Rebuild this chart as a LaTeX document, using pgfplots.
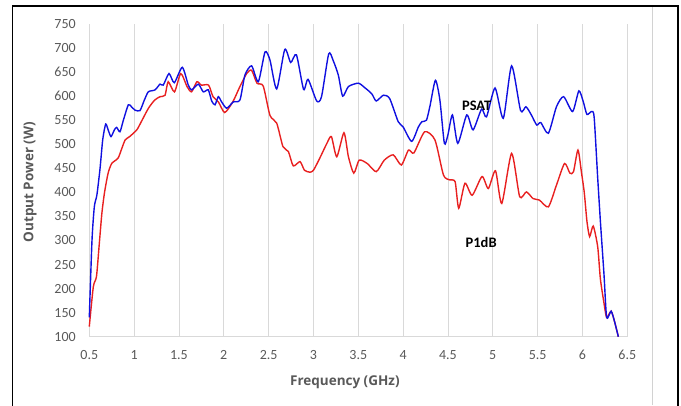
\documentclass[border=0pt]{standalone}
\usepackage{pgfplots}
\pgfplotsset{compat=1.18}
\usepackage{fontspec}
\setmainfont{Carlito}
\newfontfamily\labelfont{Open Sans}
\definecolor{tickgray}{HTML}{595959}
\definecolor{gridgray}{HTML}{D9D9D9}
\definecolor{psatblue}{HTML}{1010E0}
\definecolor{pdbred}{HTML}{E82020}
\begin{document}
\begin{tikzpicture}
\path[use as bounding box] (0,0) rectangle (681pt,405pt);
\draw[black, line width=1.5pt] (12.7pt,-5pt) rectangle (678pt,399pt);
\draw[gray!35, line width=0.8pt] (652pt,0pt) -- (652pt,398pt);
\begin{axis}[
  at={(89.3pt,68.3pt)}, anchor=south west,
  scale only axis, width=538pt, height=312.7pt,
  xmin=0.5, xmax=6.5, ymin=100, ymax=750,
  xtick={0.5,1,...,6.5}, ytick={100,150,...,750},
  xticklabels={0.5,1,1.5,2,2.5,3,3.5,4,4.5,5,5.5,6,6.5},
  axis x line*=bottom, axis y line*=left,
  x axis line style={draw=gridgray, line width=0.8pt, -},
  y axis line style={draw=none},
  major tick length=0pt,
  xmajorgrids, grid style={draw=gridgray, line width=0.8pt},
  /pgf/number format/assume math mode=true,
  ticklabel style={font=\fontsize{14}{16}\selectfont, text=tickgray},
  yticklabel style={xshift=-10pt},
  xticklabel style={yshift=-10pt},
  xlabel={Frequency (GHz)},
  ylabel={Output Power (W)},
  every axis x label/.style={at={(axis description cs:0.475,-0.147)}, anchor=center, font=\labelfont\bfseries\fontsize{13.5}{16}\selectfont, text=tickgray},
  every axis y label/.style={at={(axis description cs:-0.110,0.494)}, anchor=center, rotate=90, font=\labelfont\bfseries\fontsize{13.5}{16}\selectfont, text=tickgray},
  clip=false,
]
\addplot[pdbred, line width=1.4pt, smooth, tension=0.4] coordinates {
(0.5,121)(0.545,204)(0.58,225)(0.61,290)(0.64,356)(0.67,400)(0.71,440)(0.75,460)(0.82,471)(0.86,490)(0.9,509)(0.95,516)(1.03,530)(1.08,547)(1.16,575)(1.23,592)(1.29,599)(1.345,602)(1.38,630)(1.45,609)(1.52,647)(1.59,620)(1.64,609)(1.70,630)(1.75,623)(1.83,623)(1.88,599)(1.94,588)(2.01,566)(2.1,588)(2.18,620)(2.255,647)(2.31,654)(2.37,627)(2.44,621)(2.515,560)(2.59,544)(2.66,495)(2.72,485)(2.775,455)(2.85,464)(2.9,446)(2.96,442)(3.0,446)(3.07,471)(3.15,502)(3.2,516)(3.26,474)(3.34,524)(3.39,474)(3.45,440)(3.51,467)(3.6,460)(3.7,443)(3.79,467)(3.89,478)(3.98,457)(4.06,488)(4.12,482)(4.24,526)(4.355,509)(4.45,436)(4.52,426)(4.58,422)(4.62,367)(4.69,419)(4.77,394)(4.88,433)(4.95,408)(5.03,445)(5.1,377)(5.21,481)(5.3,391)(5.375,401)(5.45,387)(5.52,384)(5.62,370)(5.71,415)(5.8,460)(5.86,440)(5.9,443)(5.95,488)(5.99,440)(6.02,400)(6.05,340)(6.08,308)(6.12,330)(6.17,287)(6.2,220)(6.24,170)(6.27,140)(6.32,153)(6.36,130)(6.4,100)
};
\addplot[psatblue, line width=1.4pt, smooth, tension=0.4] coordinates {
(0.5,140)(0.53,300)(0.556,370)(0.585,395)(0.62,450)(0.65,510)(0.683,542)(0.71,530)(0.742,516)(0.78,530)(0.805,535)(0.842,526)(0.88,550)(0.935,582)(0.97,578)(1.01,571)(1.065,570)(1.11,590)(1.158,609)(1.233,613)(1.289,625)(1.325,623)(1.389,647)(1.448,628)(1.537,660)(1.604,623)(1.642,613)(1.716,625)(1.771,609)(1.827,613)(1.865,590)(1.902,582)(1.939,599)(1.976,588)(2.032,575)(2.106,588)(2.18,592)(2.236,644)(2.31,663)(2.385,630)(2.46,692)(2.515,675)(2.59,615)(2.68,697)(2.746,670)(2.81,686)(2.89,614)(2.94,635)(3.036,590)(3.09,599)(3.17,688)(3.22,674)(3.277,644)(3.326,600)(3.39,620)(3.5,627)(3.57,618)(3.65,605)(3.7,590)(3.78,602)(3.85,595)(3.945,547)(4.0,536)(4.095,506)(4.17,536)(4.21,547)(4.26,550)(4.3,580)(4.36,633)(4.41,592)(4.46,502)(4.5,520)(4.55,561)(4.61,502)(4.71,561)(4.78,530)(4.875,573)(4.93,557)(5.025,617)(5.117,554)(5.21,663)(5.31,570)(5.37,578)(5.43,561)(5.49,540)(5.535,545)(5.62,523)(5.71,578)(5.79,599)(5.89,568)(5.96,611)(6.01,588)(6.05,562)(6.1,568)(6.13,557)(6.17,430)(6.2,340)(6.24,230)(6.27,140)(6.32,153)(6.36,130)(6.4,100)
};
\node[font=\fontsize{14.5}{16}\selectfont\bfseries] at (axis cs:4.82,580) {PSAT};
\node[font=\fontsize{14.5}{16}\selectfont\bfseries] at (axis cs:4.87,295) {P1dB};
\end{axis}
\end{tikzpicture}
\end{document}
